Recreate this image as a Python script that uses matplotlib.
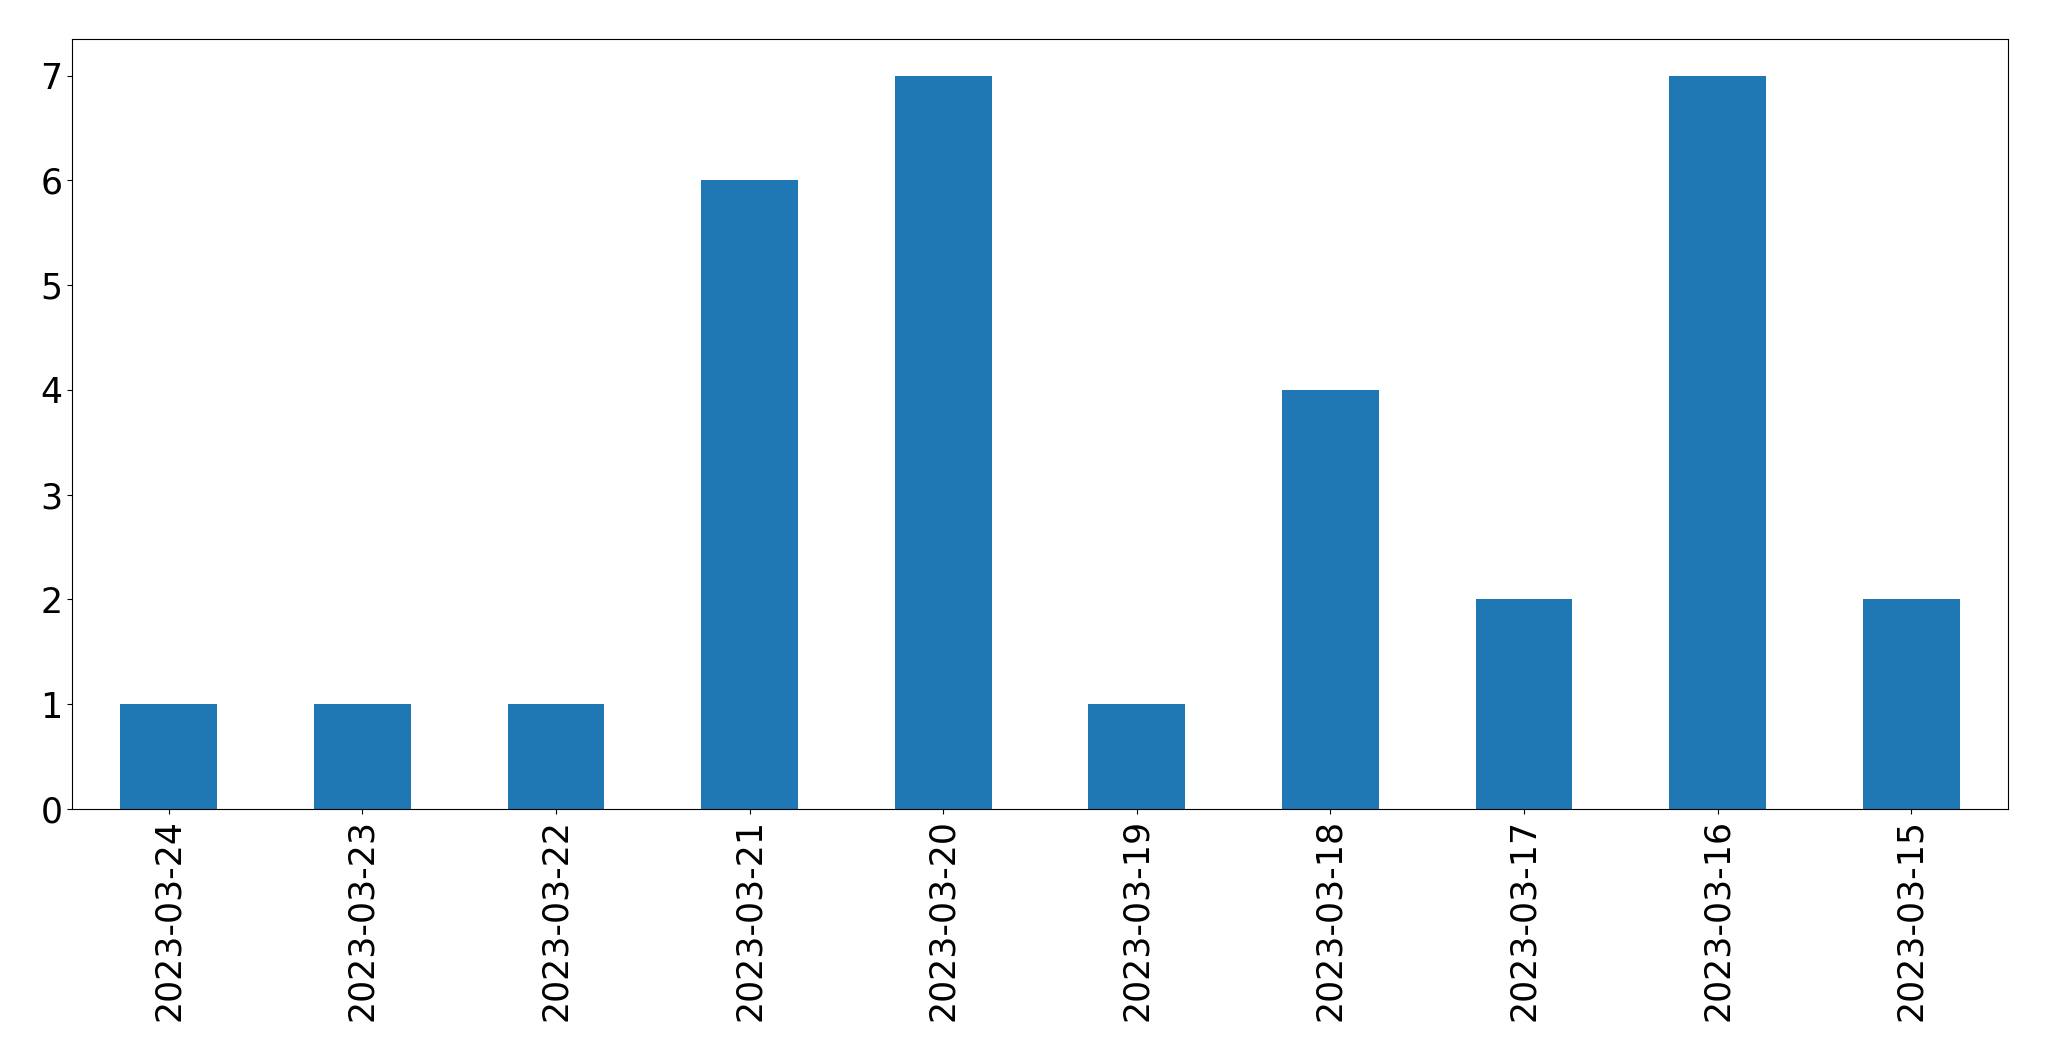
import pandas as pd
from matplotlib import pyplot as plt

dates = ['2023-03-24', '2023-03-23', '2023-03-22', '2023-03-21', '2023-03-20',
         '2023-03-19', '2023-03-18', '2023-03-17', '2023-03-16', '2023-03-15']
counts = [1, 1, 1, 6, 7, 1, 4, 2, 7, 2]

s = pd.Series(counts, index=dates)

fig = plt.figure(dpi=100, figsize=(20.49, 10.61))
ax = fig.add_axes([72 / 2049, 1 - 809 / 1061, (2008 - 72) / 2049, (809 - 39) / 1061])
s.plot(kind='bar', ax=ax, color='#1f77b4')
ax.tick_params(axis='both', which='major', labelsize=25)

fig.savefig('out.png', dpi=100)
